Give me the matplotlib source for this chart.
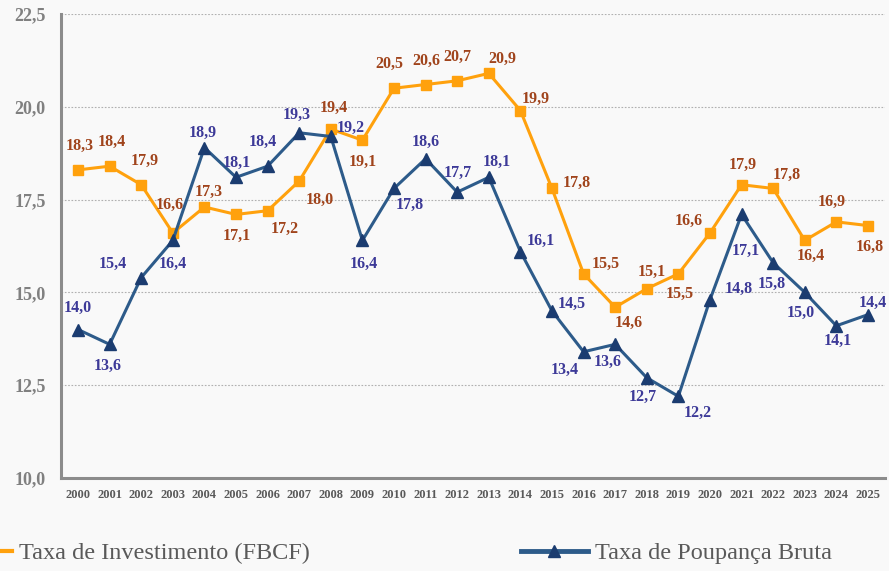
import matplotlib.pyplot as plt
from matplotlib.lines import Line2D

anos = list(range(2000, 2026))
investimento = [18.3, 18.4, 17.9, 16.6, 17.3, 17.1, 17.2, 18.0, 19.4, 19.1,
                20.5, 20.6, 20.7, 20.9, 19.9, 17.8, 15.5, 14.6, 15.1, 15.5,
                16.6, 17.9, 17.8, 16.4, 16.9, 16.8]
poupanca = [14.0, 13.6, 15.4, 16.4, 18.9, 18.1, 18.4, 19.3, 19.2, 16.4,
            17.8, 18.6, 17.7, 18.1, 16.1, 14.5, 13.4, 13.6, 12.7, 12.2,
            14.8, 17.1, 15.8, 15.0, 14.1, 14.4]
yticks = [10.0, 12.5, 15.0, 17.5, 20.0, 22.5]

# label offsets in pixels (dx, dy), y up
off_inv = [(2, 24), (2, 24), (4, 24), (-3, 28), (4, 15), (1, -21), (17, -18), (21, -19),
           (3, 21), (0, -22), (-5, 24), (1, 24), (0, 24), (14, 15), (15, 12), (25, 6),
           (22, 10), (14, -16), (5, 17), (1, -20), (-21, 12), (1, 20), (14, 14), (6, -15),
           (-5, 20), (2, -21)]
off_pou = [(0, 22), (-2, -22), (-28, 14), (0, -23), (-2, 15), (1, 14), (-5, 24), (-3, 18),
           (20, 9), (1, -23), (16, -16), (0, 17), (1, 19), (8, 15), (20, 11), (20, 7),
           (-19, -18), (-7, -18), (-4, -19), (19, -17), (29, 11), (4, -36), (-1, -21),
           (-4, -20), (1, -15), (5, 12)]

bg = '#f9f9f9'
c_inv = '#ffa10d'
c_inv_txt = '#a0441c'
c_pou = '#2d5b8a'
c_pou_mk = '#1b3c70'
c_pou_txt = '#3d3a98'
serif = ['Liberation Serif', 'DejaVu Serif']

fig = plt.figure(figsize=(8.89, 5.71), dpi=100, facecolor=bg)
ax = fig.add_axes([0.0686, 0.1629, 0.9269, 0.8126], facecolor=bg)

ax.plot(anos, investimento, color=c_inv, lw=2.2, marker='s', ms=7.5,
        mfc=c_inv, mec=c_inv, zorder=3)
ax.plot(anos, poupanca, color=c_pou, lw=2.2, marker='^', ms=8.5,
        mfc=c_pou_mk, mec=c_pou_mk, zorder=4)

for x, v, d in zip(anos, investimento, off_inv):
    ax.annotate(f'{v:.1f}'.replace('.', ','), (x, v), xytext=d, textcoords='offset pixels',
                ha='center', va='center', fontsize=11.5, fontweight='bold',
                family=serif, color=c_inv_txt, zorder=5)
for x, v, d in zip(anos, poupanca, off_pou):
    ax.annotate(f'{v:.1f}'.replace('.', ','), (x, v), xytext=d, textcoords='offset pixels',
                ha='center', va='center', fontsize=11.5, fontweight='bold',
                family=serif, color=c_pou_txt, zorder=5)

ax.set_xlim(1999.46, 2025.54)
ax.set_ylim(10, 22.5)
ax.set_xticks(anos)
ax.set_xticklabels([str(a) for a in anos], fontsize=9, fontweight='bold',
                   family=serif, color='#595959')
ax.set_yticks(yticks)
ax.set_yticklabels([f'{t:.1f}'.replace('.', ',') for t in yticks], fontsize=13,
                   fontweight='bold', family=serif, color='#808080')
ax.tick_params(axis='both', length=0)
ax.tick_params(axis='y', pad=11)
ax.tick_params(axis='x', pad=8)
ax.grid(axis='y', color='#b0b0b0', ls=(0, (1.5, 1.5)), lw=0.8)
ax.set_axisbelow(True)
for s in ['top', 'right']:
    ax.spines[s].set_visible(False)
for s in ['left', 'bottom']:
    ax.spines[s].set_color('#8c8c8c')
    ax.spines[s].set_linewidth(2.2)

h_inv = Line2D([], [], color=c_inv, lw=3, marker='s', ms=7.5, mfc=c_inv, mec=c_inv)
h_pou = Line2D([], [], color=c_pou, lw=3.5, marker='^', ms=8.5, mfc=c_pou_mk, mec=c_pou_mk)
leg_kw = dict(frameon=False, loc='center left', borderpad=0, borderaxespad=0,
              handlelength=2.75, handletextpad=0.3,
              prop={'family': serif, 'size': 17.5}, labelcolor='#595959')
leg1 = fig.legend([h_inv], ['Taxa de Investimento (FBCF)'],
                  bbox_to_anchor=(-0.062, 0.031), **leg_kw)
leg2 = fig.legend([h_pou], ['Taxa de Poupança Bruta'],
                  bbox_to_anchor=(0.586, 0.031), **leg_kw)

fig.savefig('out.png', dpi=100, facecolor=bg)
